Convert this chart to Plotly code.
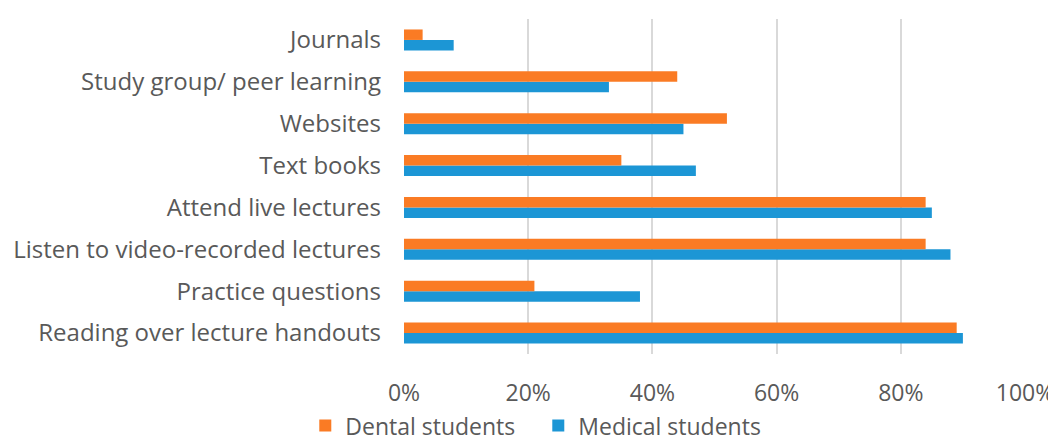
import plotly.graph_objects as go

categories = [
    "Reading over lecture handouts",
    "Practice questions",
    "Listen to video-recorded lectures",
    "Attend live lectures",
    "Text books",
    "Websites",
    "Study group/ peer learning",
    "Journals",
]
dental = [89, 21, 84, 84, 35, 52, 44, 3]
medical = [90, 38, 88, 85, 47, 45, 33, 8]
x_ticks = [0, 20, 40, 60, 80, 100]
x_tick_labels = ["0%", "20%", "40%", "60%", "80%", "100%"]

FONT = "Open Sans"
GREY = "#595959"

fig = go.Figure()
fig.add_trace(go.Bar(
    y=categories, x=medical, name="Medical students", orientation="h",
    marker=dict(color="#1C96D5", line=dict(width=0)),
))
fig.add_trace(go.Bar(
    y=categories, x=dental, name="Dental students", orientation="h",
    marker=dict(color="#FA7B24", line=dict(width=0)),
))

# page body has an 8px margin, so the figure is 1048x435
fig.update_layout(
    width=1048, height=435,
    margin=dict(l=396, r=31, t=11, b=89, autoexpand=False),
    paper_bgcolor="white", plot_bgcolor="white",
    barmode="group", bargap=0.5, bargroupgap=0,
    font=dict(family=FONT, size=24, color=GREY),
    showlegend=True,
    legend=dict(
        orientation="h", traceorder="reversed",
        xref="container", yref="container",
        x=0.506, xanchor="center", y=0.04, yanchor="middle",
        font=dict(family=FONT, size=23, color=GREY),
        itemwidth=30, tracegroupgap=0, entrywidth=188,
    ),
    xaxis=dict(
        range=[0, 100], tickvals=x_ticks, ticktext=x_tick_labels,
        showgrid=True, gridcolor="#D9D9D9", gridwidth=1.5,
        zeroline=False, showline=False, ticks="",
        tickfont=dict(family=FONT, size=23, color=GREY),
        ticklabelstandoff=23, automargin=False,
    ),
    yaxis=dict(
        categoryorder="array", categoryarray=categories,
        showgrid=False, zeroline=False, showline=False, ticks="",
        tickfont=dict(family=FONT, size=24, color=GREY),
        ticklabelstandoff=22, automargin=False,
    ),
)

fig.write_html("out.html")
